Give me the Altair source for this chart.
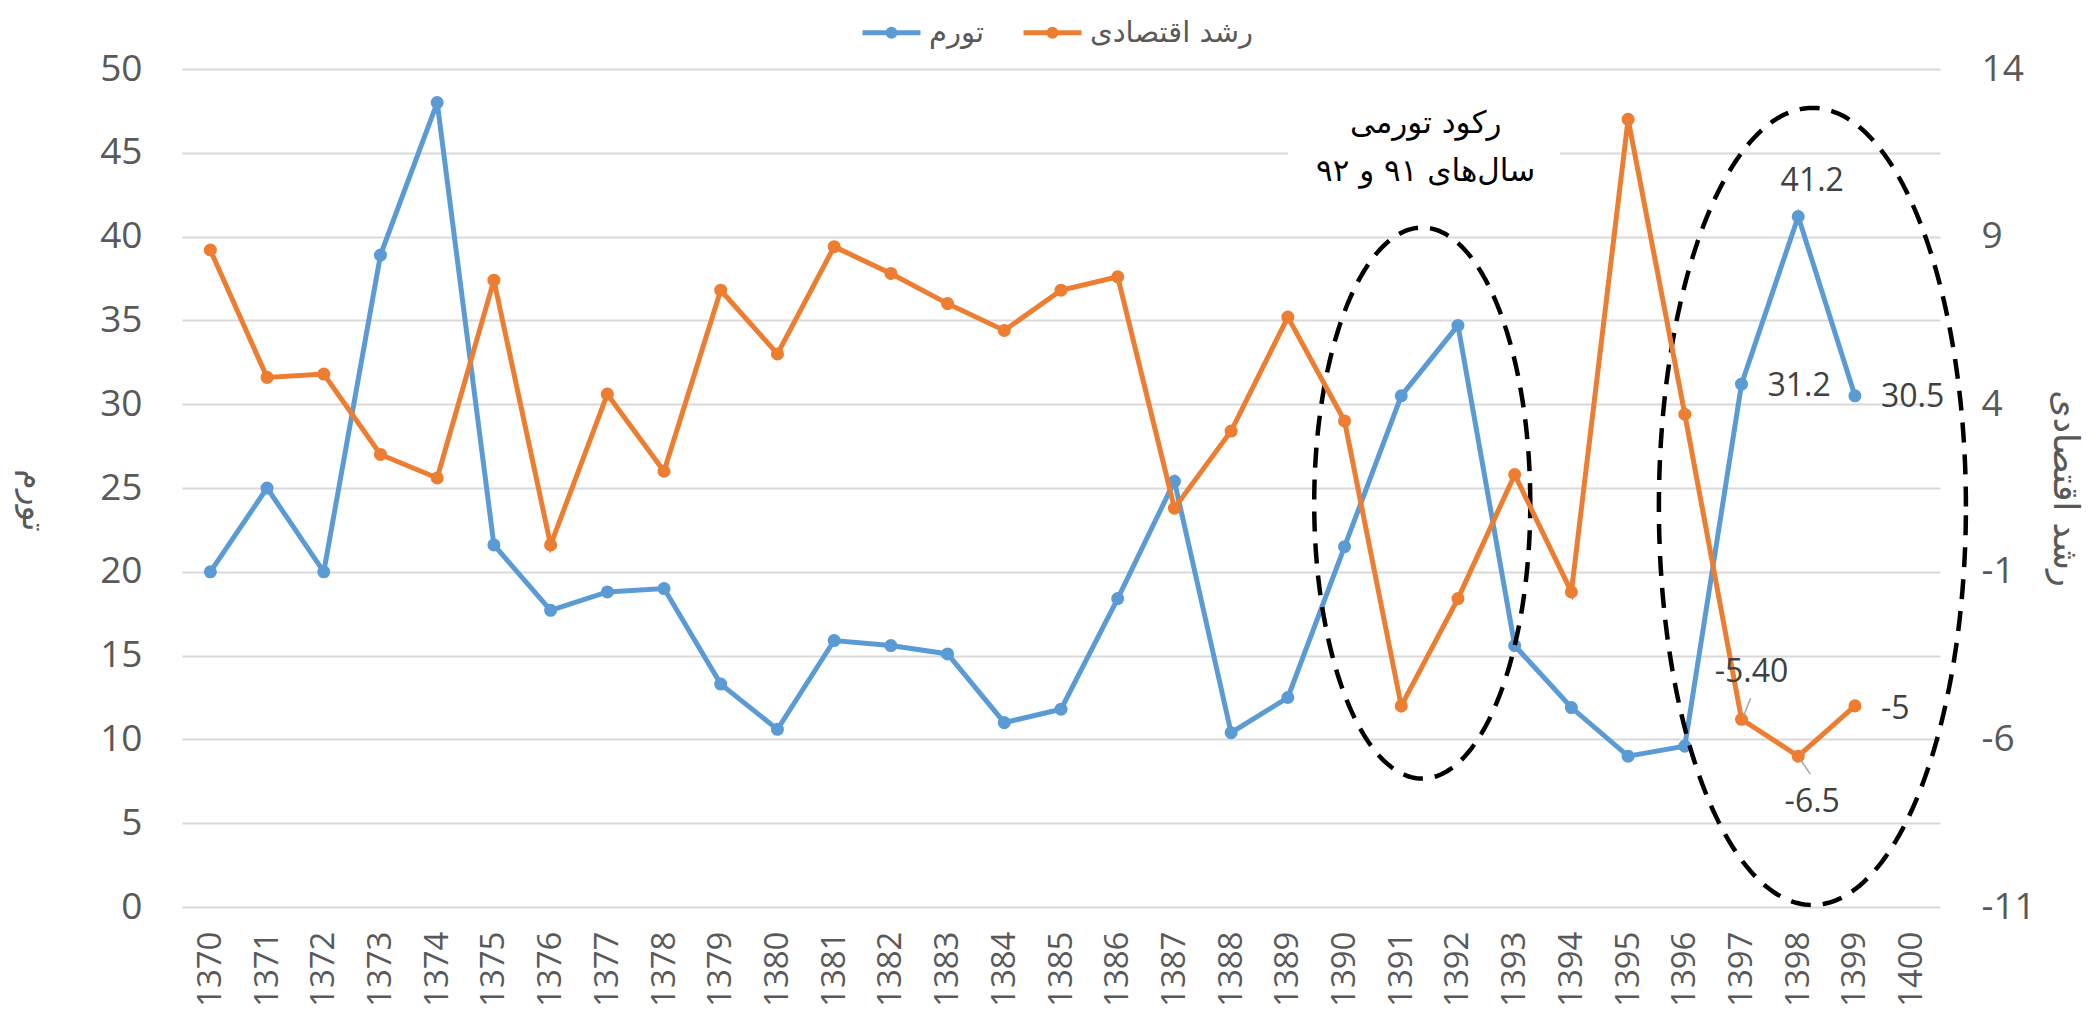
import altair as alt
import pandas as pd
import numpy as np

# ---------------- data ----------------
years = list(range(1370, 1401))
inflation = [20.0, 25.0, 20.0, 38.9, 48.0, 21.6, 17.7, 18.8, 19.0, 13.3,
             10.6, 15.9, 15.6, 15.1, 11.0, 11.8, 18.4, 25.4, 10.4, 12.5,
             21.5, 30.5, 34.7, 15.6, 11.9, 9.0, 9.6, 31.2, 41.2, 30.5, None]
growth = [8.6, 4.8, 4.9, 2.5, 1.8, 7.7, -0.2, 4.3, 2.0, 7.4,
          5.5, 8.7, 7.9, 7.0, 6.2, 7.4, 7.8, 0.9, 3.2, 6.6,
          3.5, -5.0, -1.8, 1.9, -1.6, 12.5, 3.7, -5.4, -6.5, -5.0, None]
series_names = ["تورم", "رشد اقتصادی"]
left_ticks = list(range(0, 51, 5))
right_ticks = [-11, -6, -1, 4, 9, 14]

blue_label_years = [1397, 1398, 1399]
blue_label_text = ["31.2", "41.2", "30.5"]
orange_label_years = [1397, 1398, 1399]
orange_label_text = ["-5.40", "-6.5", "-5"]

annotation_text = "رکود تورمی\nسال‌های ۹۱ و ۹۲"

# ---------------- styling ----------------
BLUE = "#5b9bd5"
ORANGE = "#ed7d31"
GRAY = "#595959"
NUM_FONT = "Open Sans"
AR_FONT = "DejaVu Sans"

df_inf = pd.DataFrame({"year": years, "value": inflation, "series": series_names[0]}).dropna()
df_gr = pd.DataFrame({"year": years, "value": growth, "series": series_names[1]}).dropna()

color_scale = alt.Scale(domain=series_names, range=[BLUE, ORANGE])

legend_path = ("M-1,0L1,0"
               "M-0.12,0A0.12,0.12,0,1,1,0.12,0A0.12,0.12,0,1,1,-0.12,0"
               "M-0.04,0A0.04,0.04,0,1,1,0.04,0A0.04,0.04,0,1,1,-0.04,0")
legend = alt.Legend(orient="none", legendX=678, legendY=-68, direction="horizontal",
                    title=None, symbolType=legend_path, symbolSize=3364,
                    symbolStrokeWidth=5, labelFontSize=29, labelFont=AR_FONT,
                    labelColor=GRAY, labelLimit=500, columnPadding=28, labelOffset=6)

x_axis = alt.Axis(values=years, format="d", labelAngle=270, labelAlign="right",
                  labelBaseline="middle", grid=False, ticks=False, domain=False,
                  labelPadding=24, labelFontSize=33, labelFont=NUM_FONT,
                  labelColor=GRAY, title=None, labelOverlap=False, labelFlush=False)
x_scale = alt.Scale(domain=[1369.5, 1400.5], nice=False, zero=False)

left_axis = alt.Axis(values=left_ticks, grid=True, gridColor="#d9d9d9", gridWidth=2,
                     ticks=False, domain=False, labelPadding=40, labelFontSize=37,
                     labelFont=NUM_FONT, labelColor=GRAY, title="تورم",
                     titleAngle=90, titleFontSize=33, titleFont=AR_FONT,
                     titleFontWeight="normal", titleColor=GRAY, titleX=-150,
                     titleY=431, titleAlign="center", titleBaseline="middle")
left_scale = alt.Scale(domain=[0, 50], nice=False, zero=False)

right_axis = alt.Axis(values=right_ticks, orient="right", grid=False, ticks=False,
                      domain=False, labelPadding=41, labelFontSize=37, labelFont=NUM_FONT,
                      labelColor=GRAY, labelExpr="'' + datum.value",
                      title="رشد اقتصادی", titleAngle=90,
                      titleFontSize=35, titleFont=AR_FONT, titleFontWeight="normal",
                      titleColor=GRAY, titleX=124, titleY=419, titleAlign="center",
                      titleBaseline="middle", titleLimit=600)
right_scale = alt.Scale(domain=[-11, 14], nice=False, zero=False)


def X(field):
    return alt.X(field, type="quantitative", scale=x_scale, axis=x_axis)


def YL(field):
    return alt.Y(field, type="quantitative", scale=left_scale, axis=left_axis)


def YR(field):
    return alt.Y(field, type="quantitative", scale=right_scale, axis=right_axis)


# ---------------- left (inflation) group ----------------
annot_box = pd.DataFrame({"x1": [1389.0], "x2": [1393.8], "y1": [42.0], "y2": [48.6]})
rect = alt.Chart(annot_box).mark_rect(color="white").encode(
    x=X("x1"), x2="x2", y=YL("y1"), y2="y2")

t = np.linspace(0, 2 * np.pi, 241)
ell_specs = [(1391.37, 24.1, 1.905, 16.44), (1398.25, 23.9, 2.707, 23.78)]
ell_rows = []
for k, (cx, cy, rx, ry) in enumerate(ell_specs):
    for i, tt in enumerate(t):
        ell_rows.append({"id": k, "i": i, "ex": cx + rx * np.cos(tt), "ey": cy + ry * np.sin(tt)})
ell_df = pd.DataFrame(ell_rows)
ellipses = alt.Chart(ell_df).mark_line(color="black", strokeWidth=4.5,
                                       strokeDash=[20, 12]).encode(
    x=X("ex"), y=YL("ey"), detail="id:N", order="i:Q")

annot_pos = pd.DataFrame({"ax": [1391.43], "ay": [46.7]})
annot = alt.Chart(annot_pos).mark_text(text=annotation_text, lineBreak="\n",
                                       fontSize=31, font=AR_FONT, color="black",
                                       align="center", baseline="middle",
                                       lineHeight=48).encode(
    x=X("ax"), y=YL("ay"))

blue_line = alt.Chart(df_inf).mark_line(
    strokeWidth=5, point=alt.OverlayMarkDef(filled=True, size=170)).encode(
    x=X("year"), y=YL("value"),
    color=alt.Color("series:N", scale=color_scale, legend=legend))

blue_offsets = [(26, 2, "left"), (14, -35, "center"), (26, 1, "left")]
blue_layers = []
for yr, txt, (dx, dy, al) in zip(blue_label_years, blue_label_text, blue_offsets):
    d = df_inf[df_inf["year"] == yr].assign(label=txt)
    blue_layers.append(alt.Chart(d).mark_text(
        dx=dx, dy=dy, align=al, baseline="middle", fontSize=32, font=NUM_FONT,
        color="#404040").encode(x=X("year"), y=YL("value"), text="label:N"))

left = alt.layer(rect, blue_line, *blue_layers, ellipses, annot)

# ---------------- right (growth) group ----------------
orange_line = alt.Chart(df_gr).mark_line(
    strokeWidth=5, point=alt.OverlayMarkDef(filled=True, size=170)).encode(
    x=X("year"), y=YR("value"),
    color=alt.Color("series:N", scale=color_scale, legend=legend))

orange_offsets = [(10, -47, "center"), (14, 46, "center"), (26, 3, "left")]
orange_layers = []
for yr, txt, (dx, dy, al) in zip(orange_label_years, orange_label_text, orange_offsets):
    d = df_gr[df_gr["year"] == yr].assign(label=txt)
    orange_layers.append(alt.Chart(d).mark_text(
        dx=dx, dy=dy, align=al, baseline="middle", fontSize=32, font=NUM_FONT,
        color="#404040").encode(x=X("year"), y=YR("value"), text="label:N"))

leader_layers = []
for yr, offs in zip([1397, 1398], [(2, -3, 9, -21), (2, 3, 12, 18)]):
    d = df_gr[df_gr["year"] == yr]
    leader_layers.append(alt.Chart(d).mark_rule(
        color="#a6a6a6", strokeWidth=1.5, xOffset=offs[0], yOffset=offs[1],
        x2Offset=offs[2], y2Offset=offs[3]).encode(
        x=X("year"), x2="year", y=YR("value"), y2="value"))

right = alt.layer(orange_line, *orange_layers, *leader_layers)

chart = alt.layer(left, right).resolve_scale(y="independent").properties(
    width=1758, height=838,
    padding={"left": 174, "top": 61, "right": 148, "bottom": 105},
    autosize=alt.AutoSizeParams(type="none"),
    background="white",
).configure_view(stroke=None).configure_axis(titleFontWeight="normal")

chart.save("out.html", embed_options={"renderer": "svg", "actions": False})
